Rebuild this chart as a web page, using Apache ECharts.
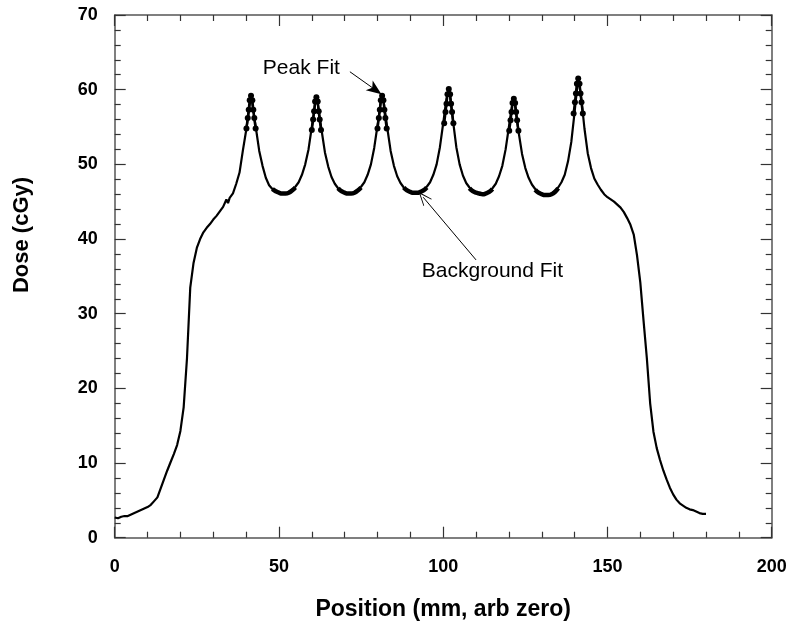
<!DOCTYPE html>
<html>
<head>
<meta charset="utf-8">
<script src="https://cdn.jsdelivr.net/npm/echarts@6/dist/echarts.min.js"></script>
<style>
html,body{margin:0;padding:0;background:#fff;}
#chart{width:791px;height:627px;}
</style>
</head>
<body>
<div id="chart"></div>
<script>
// Measured dose profile
var positions = [0,1,2,3,4,5,6,7,8,9,10,11,12,13,14,15,16,17,18,19,20,21,22,23,24,25,26,27,28,29,30,31,32,33,34,34.5,35,36,37,38,39,40,41,41.5,42,43,44,45,46,47,48,49,50,51,52,53,54,55,56,57,58,59,60,61,61.4,62,63,64,65,66,67,68,69,70,71,72,73,74,75,76,77,78,79,80,81,81.4,82,83,84,85,86,87,88,89,90,91,92,93,94,95,96,97,98,99,100,101,101.7,102,103,104,105,106,107,108,109,110,111,112,113,114,115,116,117,118,119,120,121,121.5,122,123,124,125,126,127,128,129,130,131,132,133,134,135,136,137,138,139,140,141.1,142,143,144,145,146,147,148,149,150,151,152,153,154,155,156,157,158,159,160,161,162,163,164,165,166,167,168,169,170,171,172,173,174,175,176,177,178,179,180];
var dose = [2.7,2.6,2.8,2.9,2.9,3.1,3.3,3.5,3.7,3.9,4.1,4.4,4.9,5.4,6.6,7.8,9.0,10.1,11.2,12.4,14.3,17.5,24.0,33.5,36.8,38.8,40.0,40.9,41.5,42.0,42.6,43.1,43.7,44.3,45.3,44.8,45.5,46.1,47.4,48.9,51.8,54.5,57.6,59.3,57.8,54.8,51.8,49.8,48.2,47.2,46.7,46.4,46.2,46.1,46.1,46.3,46.6,47.0,47.6,48.6,50.0,52.0,55.0,58.0,59.1,57.6,54.5,51.6,49.7,48.3,47.4,46.8,46.4,46.2,46.1,46.1,46.3,46.6,47.0,47.6,48.6,50.0,52.2,55.2,58.3,59.3,58.0,54.8,51.8,49.8,48.4,47.5,46.9,46.5,46.3,46.2,46.2,46.3,46.6,47.0,47.6,48.6,50.0,52.3,55.5,58.8,60.2,59.3,55.8,52.3,50.0,48.5,47.5,46.9,46.5,46.2,46.1,46.0,46.1,46.4,46.8,47.4,48.4,49.8,52.0,55.0,58.0,58.9,57.4,54.2,51.4,49.5,48.2,47.3,46.7,46.3,46.0,45.9,45.9,46.1,46.4,46.9,47.6,48.6,50.4,53.0,57.0,61.6,59.0,54.8,51.5,49.5,48.1,47.3,46.6,46.0,45.6,45.3,45.0,44.6,44.2,43.6,42.8,41.9,40.6,37.8,34.2,29.0,24.0,18.0,14.2,12.0,10.4,9.0,7.8,6.7,5.8,5.1,4.6,4.3,4.0,3.8,3.7,3.5,3.3,3.2,3.2];

// Peak fit points (one list per peak)
var peakFitX = [
  [40.1,40.5,40.8,41.1,41.5,41.9,42.2,42.5,42.9],
  [60.0,60.4,60.7,61.0,61.4,61.8,62.1,62.4,62.8],
  [80.0,80.4,80.7,81.0,81.4,81.8,82.1,82.4,82.8],
  [100.3,100.7,101.0,101.3,101.7,102.1,102.4,102.7,103.1],
  [120.1,120.5,120.8,121.1,121.5,121.9,122.2,122.5,122.9],
  [139.7,140.1,140.4,140.7,141.1,141.5,141.8,142.1,142.5]
];
var peakFitY = [
  [54.8,56.2,57.3,58.6,59.2,58.6,57.3,56.2,54.8],
  [54.6,56.0,57.1,58.4,59.0,58.4,57.1,56.0,54.6],
  [54.8,56.2,57.3,58.6,59.2,58.6,57.3,56.2,54.8],
  [55.5,57.0,58.1,59.4,60.1,59.4,58.1,57.0,55.5],
  [54.5,55.9,57.0,58.2,58.8,58.2,57.0,55.9,54.5],
  [56.8,58.3,59.5,60.8,61.5,60.8,59.5,58.3,56.8]
];

// Background fit segments (one list per valley)
var bgFitX = [
  [48,49,50,51,52,53,54,55],
  [68,69,70,71,72,73,74,75],
  [88,89,90,91,92,93,94,95],
  [108,109,110,111,112,113,114,115],
  [128,129,130,131,132,133,134,135]
];
var bgFitY = [
  [46.7,46.4,46.2,46.1,46.1,46.2,46.5,46.9],
  [46.8,46.4,46.2,46.1,46.1,46.2,46.5,46.9],
  [46.9,46.5,46.3,46.2,46.2,46.3,46.5,46.9],
  [46.8,46.4,46.2,46.1,46.0,46.1,46.3,46.7],
  [46.6,46.2,46.0,45.9,45.9,46.0,46.3,46.8]
];

var xTicks = [0,50,100,150,200];
var yTicks = [0,10,20,30,40,50,60,70];

function zip(a,b){var r=[];for(var i=0;i<a.length;i++)r.push([a[i],b[i]]);return r;}

var FONT = "'Liberation Sans', Arial, sans-serif";
var frameColor = '#555';

function xAx(pos, showLabel){
  return {
    type:'value', position:pos, min:xTicks[0], max:xTicks[xTicks.length-1], interval:50,
    axisLine:{show:true, onZero:false, lineStyle:{color:frameColor, width:1.5}},
    axisTick:{show:true, inside:true, length:11, lineStyle:{color:'#333', width:1.2}},
    minorTick:{show:true, splitNumber:5, length:6, lineStyle:{color:'#333', width:1.2}},
    splitLine:{show:false}, minorSplitLine:{show:false},
    axisLabel:{show:showLabel, margin:20, color:'#000', fontFamily:FONT, fontWeight:'bold', fontSize:18},
    name: showLabel ? 'Position (mm, arb zero)' : '',
    nameLocation:'middle', nameGap:60,
    nameTextStyle:{color:'#000', fontFamily:FONT, fontWeight:'bold', fontSize:23}
  };
}
function yAx(pos, showLabel){
  return {
    type:'value', position:pos, min:yTicks[0], max:yTicks[yTicks.length-1], interval:10,
    axisLine:{show:true, onZero:false, lineStyle:{color:frameColor, width:1.5}},
    axisTick:{show:true, inside:true, length:11, lineStyle:{color:'#333', width:1.2}},
    minorTick:{show:true, splitNumber:5, length:6, lineStyle:{color:'#333', width:1.2}},
    splitLine:{show:false}, minorSplitLine:{show:false},
    axisLabel:{show:showLabel, margin:17, color:'#000', fontFamily:FONT, fontWeight:'bold', fontSize:18}
  };
}

var series = [];
series.push({
  type:'line', name:'Dose', data:zip(positions,dose), showSymbol:false, symbol:'none',
  lineStyle:{color:'#000', width:2.2}, z:3, animation:false, silent:true,
  markLine:{
    silent:true, animation:false, label:{show:false},
    lineStyle:{color:'#000', width:1, type:'solid'},
    data:[
      [{coord:[71.6,62.4], symbol:'none'},{coord:[81.2,59.4], symbol:'arrow', symbolSize:[9,15]}],
      [{coord:[110.0,37.2], symbol:'none'},{coord:[93.9,45.6], symbol:'path://M0,0 L6,13 L5,13 L0,2.5 L-5,13 L-6,13 Z', symbolSize:[11,14]}]
    ]
  },
  markPoint:{
    silent:true, animation:false, symbol:'circle', symbolSize:0,
    label:{show:true, position:'right', distance:0, color:'#000', fontFamily:FONT, fontSize:21},
    data:[
      {coord:[45.1,62.9], value:0, label:{formatter:'Peak Fit'}},
      {coord:[93.5,35.7], value:0, label:{formatter:'Background Fit'}}
    ]
  }
});
for (var i=0;i<peakFitX.length;i++){
  series.push({type:'line', name:'Peak Fit', data:zip(peakFitX[i],peakFitY[i]), symbol:'circle', symbolSize:6, showSymbol:true,
    itemStyle:{color:'#000'}, lineStyle:{color:'#000', width:2.5}, z:4, animation:false, silent:true});
}
for (var j=0;j<bgFitX.length;j++){
  series.push({type:'line', name:'Background Fit', data:zip(bgFitX[j],bgFitY[j]), symbol:'none', smooth:true,
    lineStyle:{color:'#000', width:4.5}, z:4, animation:false, silent:true});
}

var chart = echarts.init(document.getElementById('chart'), null, {renderer:'canvas'});
chart.setOption({
  backgroundColor:'#fff',
  animation:false,
  grid:{left:114.7, right:19.3, top:15, bottom:89.3, containLabel:false},
  xAxis:[xAx('bottom', true), xAx('top', false)],
  yAxis:[yAx('left', true), yAx('right', false)],
  graphic:[{
    type:'text', x:22, y:235, rotation:Math.PI/2,
    style:{text:'Dose (cGy)', fill:'#000', font:"bold 22px 'Liberation Sans', Arial, sans-serif", align:'center', verticalAlign:'middle'}
  }],
  series:series
});
</script>
</body>
</html>
